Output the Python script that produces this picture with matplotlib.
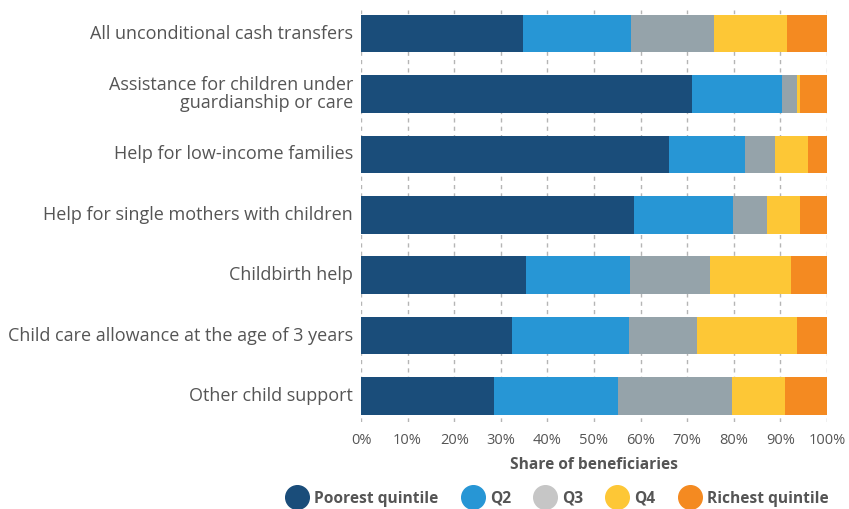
import matplotlib
matplotlib.use("Agg")
import matplotlib.pyplot as plt
import matplotlib.transforms as mtransforms
from matplotlib.lines import Line2D
import numpy as np

plt.rcParams['font.family'] = ['Open Sans', 'DejaVu Sans']

categories = [
    "All unconditional cash transfers",
    "Assistance for children under\nguardianship or care",
    "Help for low-income families",
    "Help for single mothers with children",
    "Childbirth help",
    "Child care allowance at the age of 3 years",
    "Other child support",
]
series = ["Poorest quintile", "Q2", "Q3", "Q4", "Richest quintile"]
# share of beneficiaries (%) in each quintile
poorest = [34.8, 71.0, 66.1, 58.6, 35.4, 32.4, 28.5]
q2 = [23.1, 19.3, 16.3, 21.2, 22.3, 25.1, 26.7]
q3 = [17.9, 3.3, 6.4, 7.3, 17.2, 14.6, 24.4]
q4 = [15.6, 0.6, 7.1, 7.1, 17.4, 21.5, 11.4]
richest = [8.6, 5.8, 4.1, 5.8, 7.7, 6.4, 9.0]
xticks = [0, 10, 20, 30, 40, 50, 60, 70, 80, 90, 100]

colors = ["#1a4d7a", "#2796d5", "#95a3aa", "#fdc736", "#f48a21"]
legend_colors = ["#1a4d7a", "#2796d5", "#c6c6c6", "#fdc736", "#f48a21"]
text_col = "#555555"

fig = plt.figure(figsize=(8.49, 5.10), dpi=100)
ax = fig.add_axes([361/849, 1 - 423/510, 466/849, 412/510])

y = np.arange(len(categories))
left = np.zeros(len(categories))
for vals, col, name in zip([poorest, q2, q3, q4, richest], colors, series):
    ax.barh(y, vals, left=left, color=col, height=0.62, label=name, zorder=2)
    left += np.array(vals)

ax.set_xlim(0, 100)
ax.set_ylim(6.43, -0.39)
ax.set_yticks(y)
ax.set_yticklabels([])
# category labels, drawn as text a bit above bar centre
trans = ax.get_yaxis_transform() + mtransforms.ScaledTranslation(-8/100, 1/100, fig.dpi_scale_trans)
for yi, cat in zip(y, categories):
    ax.text(0, yi, cat, transform=trans, ha='right', va='center', fontsize=13,
            color=text_col, linespacing=1.0, multialignment='right')
ax.set_xticks(xticks)
ax.set_xticklabels([f"{t}%" for t in xticks], fontsize=10.5, color=text_col)
ax.tick_params(length=0)
ax.tick_params(axis='x', pad=7)
ax.grid(axis='x', color="#b5b5b5", linestyle=(0, (3, 3)), linewidth=1, zorder=0)
ax.set_axisbelow(True)
for s in ax.spines.values():
    s.set_visible(False)
ax.set_xlabel("Share of beneficiaries", fontsize=11.2, fontweight='bold', color=text_col, labelpad=7)

handles = [Line2D([], [], marker='o', linestyle='', markersize=17, color=c) for c in legend_colors]
fig.legend(handles, series, loc='center', bbox_to_anchor=(555/849, 1 - 499/510), ncol=5,
           frameon=False, handletextpad=0.1, columnspacing=1.2,
           prop={'weight': 'bold', 'size': 11.2}, labelcolor=text_col)

fig.savefig("out.png", dpi=100)
